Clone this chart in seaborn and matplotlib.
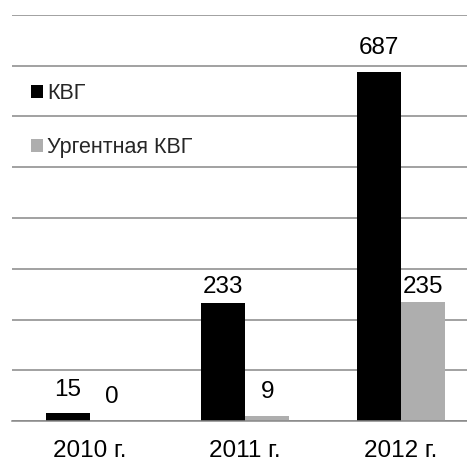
import matplotlib
matplotlib.use("Agg")
import matplotlib.pyplot as plt
import seaborn as sns
import pandas as pd
from matplotlib.patches import Patch

years = ["2010 г.", "2011 г.", "2012 г."]
series_names = ["КВГ", "Ургентная КВГ"]
kvg = [15, 233, 687]
urgent = [0, 9, 235]
label_gap_px = {"КВГ": [17, 10, 18], "Ургентная КВГ": [18, 18, 9]}

colors = ["#000000", "#AEAEAE"]
grid_color = "#878787"

sns.set_theme(style="white")
plt.rcParams["font.family"] = ["Liberation Sans", "DejaVu Sans"]

df = pd.DataFrame({
    "year": years * 2,
    "series": [series_names[0]] * 3 + [series_names[1]] * 3,
    "value": kvg + urgent,
})

W, H = 467, 461
fig = plt.figure(figsize=(W / 100, H / 100), dpi=100)
ax = fig.add_axes([12 / W, (H - 421) / H, 466.5 / W, (421 - 15) / H])

sns.barplot(data=df, x="year", y="value", hue="series", palette=colors,
            width=0.566, saturation=1, ax=ax, legend=False, edgecolor="none")

ax.set_ylim(0, 800)
ax.set_xlim(-0.5, 2.5)
ax.set_yticks(range(0, 801, 100))
ax.yaxis.grid(True, color=grid_color, linewidth=1.1)
ax.set_axisbelow(True)
ax.tick_params(axis="y", left=False, labelleft=False)
ax.set_xlabel("")
ax.set_ylabel("")
for s in ["top", "right", "left"]:
    ax.spines[s].set_visible(False)
ax.spines["bottom"].set_color(grid_color)
ax.spines["bottom"].set_linewidth(1.1)

ax.set_xticks([0, 1, 2])
ax.set_xticklabels(years, fontsize=17.5)
ax.tick_params(axis="x", which="major", length=0, pad=13.5, colors="black")
ax.set_xticks([-0.5, 0.5, 1.5, 2.5], minor=True)
ax.tick_params(axis="x", which="minor", length=5, width=1.1, color=grid_color)

for cont, name in zip(ax.containers, series_names):
    for bar, gap in zip(cont.patches, label_gap_px[name]):
        h = bar.get_height()
        ax.annotate(f"{int(round(h))}", (bar.get_x() + bar.get_width() / 2, h),
                    xytext=(0, gap / 1.389), textcoords="offset points",
                    ha="center", va="baseline", fontsize=17.5, color="black")

handles = [Patch(facecolor=c, edgecolor="none") for c in colors]
leg = ax.legend(handles, series_names, loc="upper left",
                bbox_to_anchor=(31 / W, 1 - 83 / H), bbox_transform=fig.transFigure,
                frameon=False, fontsize=15.5, handlelength=0.56, handleheight=0.56,
                handletextpad=0.2, labelspacing=1.55, borderpad=0, borderaxespad=0)

fig.savefig("out.png", dpi=100)
